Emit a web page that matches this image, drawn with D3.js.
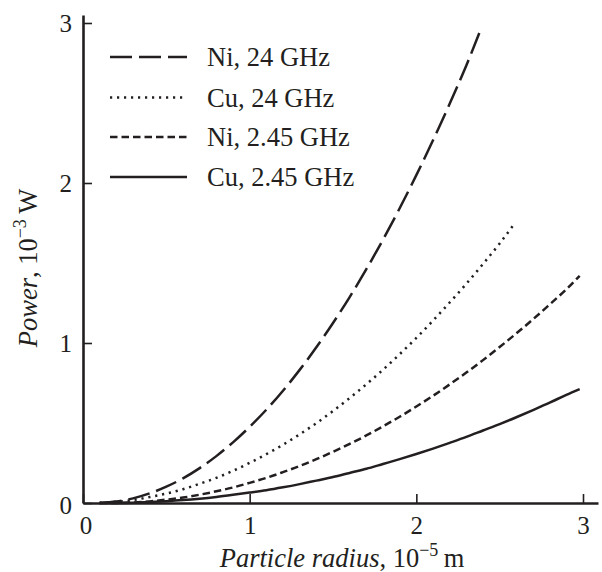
<!DOCTYPE html>
<html>
<head>
<meta charset="utf-8">
<script src="https://cdn.jsdelivr.net/npm/d3@7"></script>
<style>
  html, body { margin: 0; padding: 0; background: #fff; }
  svg { display: block; font-family: "Liberation Serif", "Times New Roman", serif; }
</style>
</head>
<body>
<svg id="chart" width="602" height="572"></svg>
<script>
// Particle radius (10^-5 m) sample points for each curve
const radiusNi24 = [0.1, 0.2, 0.3, 0.4, 0.5, 0.6, 0.7, 0.8, 0.9, 1.0, 1.1, 1.2, 1.3, 1.4, 1.5, 1.6, 1.7, 1.8, 1.9, 2.0, 2.1, 2.2, 2.3, 2.39];
const powerNi24  = [0.0005, 0.009, 0.029, 0.060, 0.102, 0.154, 0.218, 0.293, 0.379, 0.476, 0.583, 0.702, 0.832, 0.973, 1.125, 1.287, 1.461, 1.646, 1.842, 2.049, 2.267, 2.495, 2.735, 2.970];

const radiusCu24 = [0.1, 0.2, 0.3, 0.4, 0.5, 0.6, 0.7, 0.8, 0.9, 1.0, 1.1, 1.2, 1.3, 1.4, 1.5, 1.6, 1.7, 1.8, 1.9, 2.0, 2.1, 2.2, 2.3, 2.4, 2.5, 2.59];
const powerCu24  = [0.0013, 0.0077, 0.019, 0.037, 0.059, 0.086, 0.120, 0.157, 0.201, 0.251, 0.305, 0.364, 0.429, 0.499, 0.575, 0.656, 0.742, 0.833, 0.930, 1.032, 1.140, 1.253, 1.370, 1.494, 1.622, 1.748];

const radiusNi245 = [0.1, 0.2, 0.3, 0.4, 0.5, 0.6, 0.7, 0.8, 0.9, 1.0, 1.1, 1.2, 1.3, 1.4, 1.5, 1.6, 1.7, 1.8, 1.9, 2.0, 2.1, 2.2, 2.3, 2.4, 2.5, 2.6, 2.7, 2.8, 2.9, 2.98];
const powerNi245  = [0.0, 0.0003, 0.0035, 0.010, 0.021, 0.034, 0.052, 0.073, 0.097, 0.126, 0.157, 0.193, 0.231, 0.274, 0.320, 0.369, 0.422, 0.479, 0.539, 0.603, 0.670, 0.741, 0.815, 0.893, 0.975, 1.060, 1.148, 1.241, 1.336, 1.420];

const radiusCu245 = [0.1, 0.2, 0.3, 0.4, 0.5, 0.6, 0.7, 0.8, 0.9, 1.0, 1.1, 1.2, 1.3, 1.4, 1.5, 1.6, 1.7, 1.8, 1.9, 2.0, 2.1, 2.2, 2.3, 2.4, 2.5, 2.6, 2.7, 2.8, 2.9, 2.98];
const powerCu245  = [0.0, 0.0002, 0.002, 0.0056, 0.011, 0.018, 0.027, 0.038, 0.051, 0.065, 0.080, 0.098, 0.118, 0.140, 0.162, 0.188, 0.214, 0.244, 0.274, 0.306, 0.340, 0.376, 0.413, 0.453, 0.493, 0.536, 0.581, 0.627, 0.676, 0.712];

const seriesNames = ["Ni, 24 GHz", "Cu, 24 GHz", "Ni, 2.45 GHz", "Cu, 2.45 GHz"];
const xTickValues = [0, 1, 2, 3];
const yTickValues = [0, 1, 2, 3];

const series = [
  { name: seriesNames[0], r: radiusNi24,  p: powerNi24,  dash: "22,7" },
  { name: seriesNames[1], r: radiusCu24,  p: powerCu24,  dash: "2.2,4.8" },
  { name: seriesNames[2], r: radiusNi245, p: powerNi245, dash: "7.5,4" },
  { name: seriesNames[3], r: radiusCu245, p: powerCu245, dash: null }
];

const ink = "#231f20";
const tickFont = 25;
const textFont = 26.5;
const svg = d3.select("#chart");

const x = d3.scaleLinear().domain([0, 3.09]).range([83, 598]);
const y = d3.scaleLinear().domain([0, 3.05]).range([503, 15]);

// Axes with inward ticks
const xAxis = d3.axisBottom(x).tickValues(xTickValues).tickFormat(d3.format("d"))
  .tickSizeInner(-9).tickSizeOuter(0).tickPadding(13);
const yAxis = d3.axisLeft(y).tickValues(yTickValues).tickFormat(d3.format("d"))
  .tickSizeInner(-9).tickSizeOuter(0).tickPadding(11);

const gx = svg.append("g").attr("transform", `translate(0,${y(0)})`).call(xAxis);
const gy = svg.append("g").attr("transform", `translate(${x(0)},0)`).call(yAxis);

[gx, gy].forEach(g => {
  g.attr("font-family", null).attr("font-size", null);
  g.select(".domain").attr("stroke", ink).attr("stroke-width", 2.6);
  g.selectAll(".tick line").attr("stroke", ink).attr("stroke-width", 1.6);
  g.selectAll(".tick text").attr("fill", ink).style("font-size", tickFont + "px");
});
gx.selectAll(".tick text").filter(d => d === 0).attr("dx", "0.1em");
gy.selectAll(".tick text").filter(d => d === 0).attr("dy", "0.42em");

// Curves
const line = d3.line()
  .x(d => x(d[0]))
  .y(d => y(d[1]))
  .curve(d3.curveMonotoneX);

series.forEach(s => {
  const pts = s.r.map((r, i) => [r, s.p[i]]);
  svg.append("path")
    .datum(pts)
    .attr("d", line)
    .attr("fill", "none")
    .attr("stroke", ink)
    .attr("stroke-width", 2.5)
    .attr("stroke-dasharray", s.dash);
});

// Legend
const legend = svg.append("g");
const legendRows = [57, 97.5, 137, 177];
series.forEach((s, i) => {
  const ly = legendRows[i];
  legend.append("line")
    .attr("x1", 110).attr("x2", 187)
    .attr("y1", ly).attr("y2", ly)
    .attr("stroke", ink)
    .attr("stroke-width", 2.5)
    .attr("stroke-dasharray", s.dash);
  legend.append("text")
    .attr("x", 207).attr("y", ly + 9)
    .attr("fill", ink)
    .style("font-size", textFont + "px")
    .text(s.name);
});

// Axis titles
const xTitle = svg.append("text")
  .attr("x", 342).attr("y", 567)
  .attr("text-anchor", "middle")
  .attr("fill", ink)
  .style("font-size", textFont + "px");
xTitle.append("tspan").attr("font-style", "italic").text("Particle radius");
xTitle.append("tspan").text(", 10");
xTitle.append("tspan").attr("dy", -11).style("font-size", "18px").text("\u22125");
xTitle.append("tspan").attr("dy", 11).text("\u2009m");

const yTitle = svg.append("text")
  .attr("transform", "translate(37,268) rotate(-90)")
  .attr("text-anchor", "middle")
  .attr("fill", ink)
  .style("font-size", textFont + "px");
yTitle.append("tspan").attr("font-style", "italic").text("Power");
yTitle.append("tspan").text(", 10");
yTitle.append("tspan").attr("dy", -11).style("font-size", "18px").text("\u22123");
yTitle.append("tspan").attr("dy", 11).text("\u2009W");
</script>
</body>
</html>
